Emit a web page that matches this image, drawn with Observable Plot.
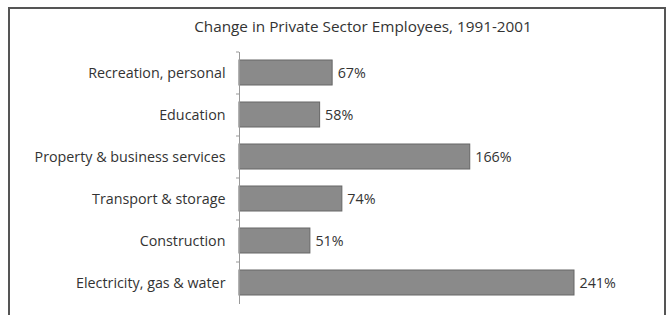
<!DOCTYPE html>
<html>
<head>
<meta charset="utf-8">
<script src="https://cdn.jsdelivr.net/npm/d3@7"></script>
<script src="https://cdn.jsdelivr.net/npm/@observablehq/plot@0.6"></script>
<style>
  html, body { margin: 0; padding: 0; background: #fff; }
  #wrap { position: relative; width: 672px; height: 315px; overflow: hidden; font-family: "Open Sans", sans-serif; }
  #frame { position: absolute; left: 8px; top: 7px; width: 658px; height: 310px; border: 2px solid #555; border-bottom: none; box-sizing: border-box; }
  #title { position: absolute; left: 0; width: 726px; top: 16px; text-align: center; font-size: 15.3px; color: #333; }
  #chart { position: absolute; left: 0; top: 45px; }
</style>
</head>
<body>
<div id="wrap">
  <div id="frame"></div>
  <div id="title">Change in Private Sector Employees, 1991-2001</div>
  <div id="chart"></div>
</div>
<script>
const categories = ["Recreation, personal", "Education", "Property & business services", "Transport & storage", "Construction", "Electricity, gas & water"];
const values = [67, 58, 166, 74, 51, 241];
const data = categories.map((c, i) => ({category: c, value: values[i]}));

const plot = Plot.plot({
  width: 672,
  height: 270,
  marginTop: 7,
  marginBottom: 11,
  marginLeft: 239,
  marginRight: 98,
  style: {fontFamily: "'Open Sans', sans-serif", fontSize: "14.3px", color: "#333", background: "transparent"},
  x: {domain: [0, 241], axis: null},
  y: {domain: categories, paddingInner: 0.4, paddingOuter: 0.2, label: null},
  marks: [
    Plot.barX(data, {x: "value", y: "category", fill: "#8a8a8a", stroke: "#666", strokeWidth: 1}),
    Plot.text(data, {x: "value", y: "category", text: d => d.value + "%", dx: 5, textAnchor: "start", fill: "#333", fontSize: 14.3}),
    Plot.ruleX([0], {stroke: "#999", strokeWidth: 1}),
    Plot.axisY({tickSize: 3, text: null, dy: -21, stroke: "#999"}),
    Plot.axisY({tickSize: 0, tickPadding: 14, fill: "#333", fontSize: 14.3})
  ]
});
document.getElementById("chart").appendChild(plot);
</script>
</body>
</html>
